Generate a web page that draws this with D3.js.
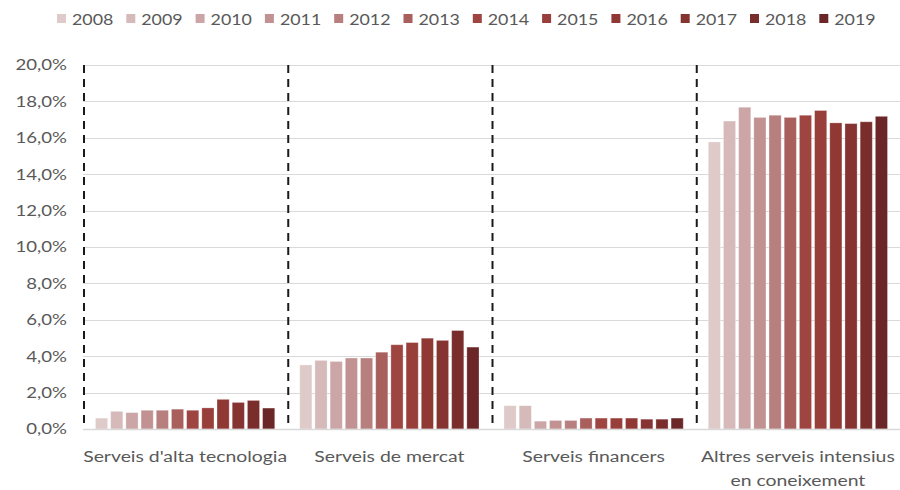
<!DOCTYPE html>
<html>
<head>
<meta charset="utf-8">
<script src="https://cdn.jsdelivr.net/npm/d3@7/dist/d3.min.js"></script>
<style>
  html, body { margin: 0; padding: 0; background: #fff; }
  svg { display: block; font-family: Lato, "Open Sans", sans-serif; }
</style>
</head>
<body>
<svg id="chart" width="900" height="490"></svg>
<script>
// Share of employment in knowledge-intensive services, by year
const categories = [
  ["Serveis d'alta tecnologia"],
  ["Serveis de mercat"],
  ["Serveis financers"],
  ["Altres serveis intensius", "en coneixement"]
];
const years = ["2008","2009","2010","2011","2012","2013","2014","2015","2016","2017","2018","2019"];

const altaTecnologia = [0.60, 0.97, 0.90, 1.03, 1.03, 1.09, 1.03, 1.16, 1.63, 1.46, 1.57, 1.15];
const mercat         = [3.52, 3.77, 3.71, 3.90, 3.90, 4.22, 4.63, 4.75, 4.99, 4.87, 5.41, 4.50];
const financers      = [1.28, 1.28, 0.43, 0.47, 0.47, 0.60, 0.60, 0.60, 0.60, 0.54, 0.54, 0.60];
const altres         = [15.77, 16.92, 17.68, 17.12, 17.24, 17.12, 17.24, 17.50, 16.82, 16.78, 16.88, 17.18];
const seriesByCategory = [altaTecnologia, mercat, financers, altres];

const yTicks = [0, 2, 4, 6, 8, 10, 12, 14, 16, 18, 20];
const colors = ["#dfcaca","#d6baba","#cca6a6","#c29292","#b77f7d","#a95f5c",
                "#9f4541","#983f3b","#8f3834","#853432","#7a2e2c","#6b2627"];

const svg = d3.select("#chart");
const margin = {left: 83, right: 0, top: 65, bottom: 61};
const W = 900, H = 490;
const plotBottom = H - margin.bottom;
const textColor = "#595959";

const x0 = d3.scaleBand().domain(d3.range(categories.length))
  .range([margin.left, W - margin.right]).paddingInner(0).paddingOuter(0);
const x1 = d3.scaleBand().domain(years)
  .range([12.5, x0.bandwidth() - 12.5]).paddingInner(0.2).paddingOuter(0);
const y = d3.scaleLinear().domain([0, 20]).range([plotBottom, margin.top]);

const fmt = v => v.toFixed(1).replace(".", ",") + "%";

// horizontally widen a text node around its own anchor point
function widen(sel, k) {
  sel.each(function() {
    const t = d3.select(this);
    const ax = +t.attr("x") || 0;
    t.attr("transform", `translate(${ax},0) scale(${k},1) translate(${-ax},0)`);
  });
}

// gridlines
svg.append("g").selectAll("line").data(yTicks).join("line")
  .attr("x1", margin.left).attr("x2", W)
  .attr("y1", d => Math.round(y(d)) + 0.5).attr("y2", d => Math.round(y(d)) + 0.5)
  .attr("stroke", "#d9d9d9").attr("stroke-width", 1);

// y axis labels
const yAxis = d3.axisLeft(y).tickValues(yTicks).tickFormat(fmt).tickSize(0).tickPadding(0);
const gy = svg.append("g").attr("transform", `translate(${margin.left - 16},0)`).call(yAxis);
gy.select(".domain").remove();
gy.selectAll("text").attr("fill", textColor).attr("x", 0).style("font-size", "15.5px")
  .style("font-family", "Lato, 'Open Sans', sans-serif");
widen(gy.selectAll("text"), 1.2);

// bars
const groups = svg.append("g").selectAll("g").data(seriesByCategory).join("g")
  .attr("transform", (d, i) => `translate(${x0(i)},0)`);
groups.selectAll("rect").data(d => d.map((v, j) => ({v, year: years[j], j}))).join("rect")
  .attr("x", d => x1(d.year))
  .attr("width", x1.bandwidth())
  .attr("y", d => y(d.v))
  .attr("height", d => plotBottom - y(d.v))
  .attr("fill", d => colors[d.j])
  .attr("stroke", "#ffffff").attr("stroke-opacity", 0.35).attr("stroke-width", 0.8);

// baseline
svg.append("line").attr("x1", margin.left).attr("x2", W)
  .attr("y1", plotBottom + 0.5).attr("y2", plotBottom + 0.5)
  .attr("stroke", "#d9d9d9").attr("stroke-width", 1.5);

// dashed separators between categories
svg.append("g").selectAll("line").data(d3.range(categories.length)).join("line")
  .attr("x1", i => x0(i) + 1).attr("x2", i => x0(i) + 1)
  .attr("y1", margin.top).attr("y2", plotBottom)
  .attr("stroke", "#1a1a1a").attr("stroke-width", 2)
  .attr("stroke-dasharray", "8,6");

// category labels
const catLabels = svg.append("g").selectAll("text").data(categories).join("text")
  .attr("x", (d, i) => x0(i) + x0.bandwidth() / 2)
  .attr("y", 462)
  .attr("text-anchor", "middle")
  .attr("fill", textColor).style("font-size", "15.5px");
catLabels.selectAll("tspan").data(d => d).join("tspan")
  .attr("x", function() { return this.parentNode.getAttribute("x"); })
  .attr("dy", (d, k) => k === 0 ? 0 : 24)
  .text(d => d);
widen(catLabels, 1.25);

// legend
const legend = svg.append("g").selectAll("g").data(years).join("g")
  .attr("transform", (d, i) => `translate(${57 + i * 69.3},0)`);
legend.append("rect").attr("x", 0).attr("y", 14).attr("width", 9).attr("height", 9)
  .attr("fill", (d, i) => colors[i]);
const legendText = legend.append("text").attr("x", 15).attr("y", 25.5)
  .attr("fill", textColor).style("font-size", "15.5px").text(d => d);
widen(legendText, 1.15);
</script>
</body>
</html>
